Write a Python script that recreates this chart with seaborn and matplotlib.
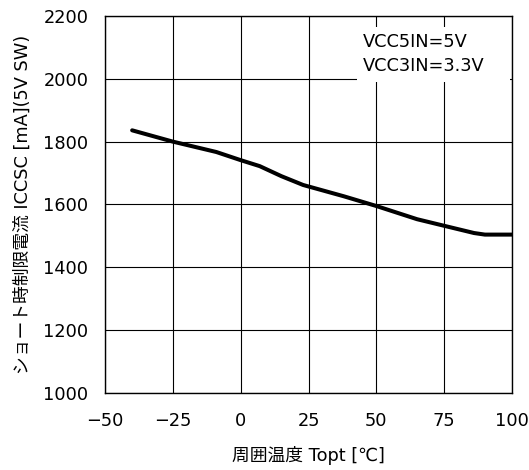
import matplotlib
matplotlib.use("Agg")
import matplotlib.pyplot as plt
from matplotlib.patches import Rectangle
import seaborn as sns
import pandas as pd

temperature = [-40, -25, -9, 0, 7, 15, 23, 38, 50, 65, 75, 86, 90, 100]
current = [1836, 1800, 1767, 1741, 1722, 1690, 1662, 1626, 1595, 1553, 1532, 1509, 1504, 1504]
x_ticks = [-50, -25, 0, 25, 50, 75, 100]
y_ticks = [1000, 1200, 1400, 1600, 1800, 2000, 2200]
x_label = "周囲温度 Topt [℃]"
y_label = "ショート時制限電流 ICCSC [mA](5V SW)"
note = "VCC5IN=5V\nVCC3IN=3.3V"

sns.set_style("white")
plt.rcParams['font.family'] = ['DejaVu Sans', 'Noto Sans CJK JP']
plt.rcParams['axes.unicode_minus'] = True
for k in ["text.color", "axes.labelcolor", "xtick.color", "ytick.color"]:
    plt.rcParams[k] = "black"

df = pd.DataFrame({"T": temperature, "I": current})

fig = plt.figure(figsize=(5.29, 4.70), dpi=100)
ax = fig.add_axes([0.1985, 0.164, 0.7695, 0.802])

sns.lineplot(data=df, x="T", y="I", ax=ax, color="black", linewidth=2.9, zorder=3)

fs = 12.8
ax.set_xlim(-50, 100)
ax.set_ylim(1000, 2200)
ax.set_xticks(x_ticks)
ax.set_yticks(y_ticks)
ax.set_xticklabels([str(v).replace("-", "−") for v in x_ticks], fontsize=fs)
ax.set_yticklabels([str(v) for v in y_ticks], fontsize=fs)
ax.tick_params(axis="y", length=0, pad=12)
ax.tick_params(axis="x", length=0, pad=14)
ax.grid(True, color="black", linewidth=0.8)
for s in ax.spines.values():
    s.set_color("black")
    s.set_linewidth(1.0)

ax.set_xlabel(x_label, fontsize=fs, labelpad=11)
ax.set_ylabel(y_label, fontsize=fs, labelpad=8)

ax.add_patch(Rectangle((0.619, 0.825), 0.376, 0.146, transform=ax.transAxes,
                       facecolor="white", edgecolor="none", zorder=2.5))
ax.text(0.634, 0.899, note, transform=ax.transAxes, fontsize=fs,
        va="center", ha="left", linespacing=1.45, zorder=4)

fig.savefig("out.png", dpi=100)
